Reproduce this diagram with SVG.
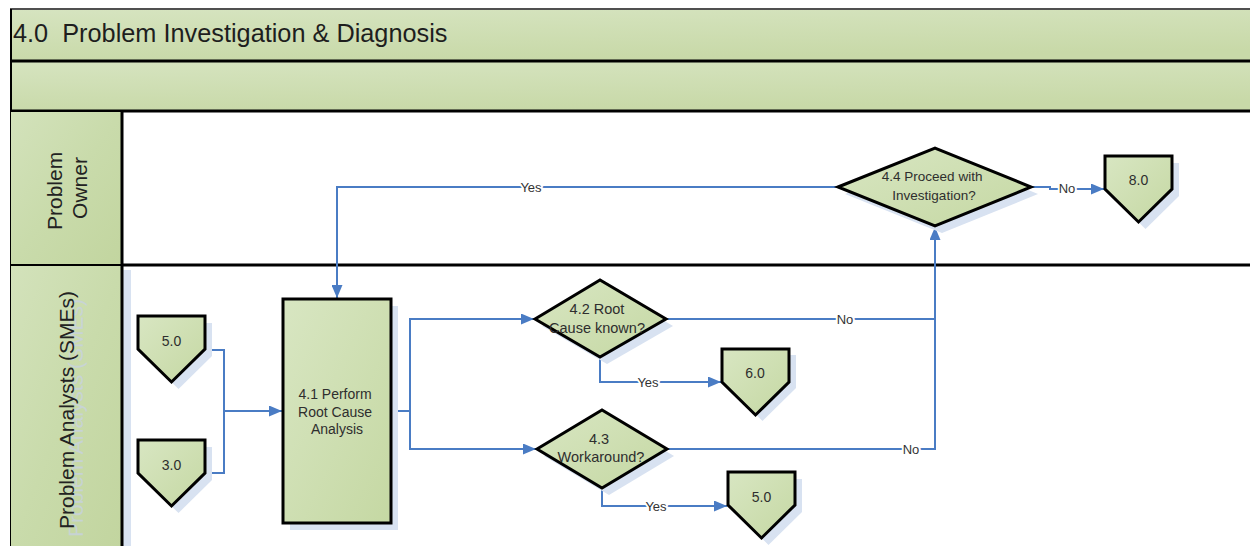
<svg xmlns="http://www.w3.org/2000/svg" width="1250" height="546" viewBox="0 0 1250 546">
  <defs>
    <linearGradient id="bandFill" x1="0" y1="0" x2="0.3" y2="1">
      <stop offset="0" stop-color="#d6e4c0"/>
      <stop offset="1" stop-color="#c8d9a8"/>
    </linearGradient>
    <linearGradient id="laneFill" x1="0" y1="0" x2="1" y2="1">
      <stop offset="0" stop-color="#d3e2bb"/>
      <stop offset="0.5" stop-color="#c9dbab"/>
      <stop offset="1" stop-color="#c2d59f"/>
    </linearGradient>
    <linearGradient id="nodeFill" x1="0" y1="0" x2="1" y2="1">
      <stop offset="0" stop-color="#d8e6c2"/>
      <stop offset="1" stop-color="#c5d8a3"/>
    </linearGradient>
    <!-- off-page reference: square top, pointed bottom -->
    <path id="offpage" d="M0,0 H67 V33 L33.5,66 L0,33 Z"/>
    <marker id="arrow" viewBox="0 0 13 11" refX="13" refY="5.5" markerWidth="13" markerHeight="11" markerUnits="userSpaceOnUse" orient="auto">
      <path d="M0,0 L13,5.5 L0,11 Z" fill="#4a7cc4"/>
    </marker>
  </defs>
  <style>
    .band { fill: url(#bandFill); }
    .lanehead { fill: url(#laneFill); }
    .rule { stroke: #000; stroke-width: 3; fill: none; }
    .node { fill: url(#nodeFill); stroke: #000; stroke-width: 3; stroke-linejoin: miter; }
    .shadow { fill: #d8e2f1; stroke: none; }
    .title { font-family: "Liberation Sans", Arial, sans-serif; font-size: 25.3px; fill: #1e1e1e; }
    .lanelabel { font-family: "Liberation Sans", Arial, sans-serif; font-size: 21px; fill: #222; text-anchor: middle; }
    .laneghost { font-family: "Liberation Sans", Arial, sans-serif; font-size: 21px; fill: #c8d2e3; text-anchor: middle; opacity: 0.75; }
    .ntext { font-family: "Liberation Sans", Arial, sans-serif; font-size: 14px; fill: #2e2e2e; text-anchor: middle; }
    .conn { fill: none; stroke: #4a7cc4; stroke-width: 2; }
    .clabel { font-family: "Liberation Sans", Arial, sans-serif; font-size: 13px; fill: #333; text-anchor: middle; paint-order: stroke; stroke: #fff; stroke-width: 4px; stroke-linejoin: round; }
  </style>

  <rect width="1250" height="546" fill="#fff"/>

  <!-- pool frame: title band, phase band, lanes -->
  <g id="pool">
    <rect class="band" x="10" y="9" width="1245" height="52"/>
    <line x1="10" y1="9" x2="1250" y2="9" stroke="#505050" stroke-width="2"/>
    <text class="title" x="13" y="42" xml:space="preserve">4.0  Problem Investigation &amp; Diagnosis</text>
    <rect class="band" x="10" y="61" width="1245" height="50"/>
    <line class="rule" x1="10" y1="61" x2="1250" y2="61"/>
    <line class="rule" x1="10" y1="111" x2="1250" y2="111"/>
    <line class="rule" x1="10" y1="265" x2="1250" y2="265"/>
    <line x1="11" y1="9" x2="11" y2="546" stroke="#000" stroke-width="2"/>
  </g>

  <g id="lane-owner">
    <rect class="lanehead" x="11" y="112" width="111" height="152"/>
    <text class="lanelabel" transform="translate(62,188) rotate(-90)">
      <tspan x="0" y="0">Problem</tspan>
      <tspan x="0" y="25">Owner</tspan>
    </text>
  </g>

  <g id="lane-analysts">
    <rect class="shadow" x="123" y="270" width="8" height="276"/>
    <rect class="lanehead" x="11" y="266" width="111" height="280"/>
    <text class="laneghost" transform="translate(83,418) rotate(-90)">Problem Analysts (SMEs)</text>
    <text class="lanelabel" transform="translate(74,410) rotate(-90)">Problem Analysts (SMEs)</text>
  </g>
  <line class="rule" x1="122" y1="111" x2="122" y2="546"/>

  <!-- connectors -->
  <g id="connectors">
    <path class="conn" d="M205,350 H224 V411"/>
    <path class="conn" d="M205,473 H224 V411"/>
    <path class="conn" d="M224,411 H282" marker-end="url(#arrow)"/>
    <path class="conn" d="M391,411 H410 V319 H534" marker-end="url(#arrow)"/>
    <path class="conn" d="M410,411 V449 H536" marker-end="url(#arrow)"/>
    <path class="conn" d="M600,357 V382 H721" marker-end="url(#arrow)"/>
    <path class="conn" d="M602,488 V506 H727" marker-end="url(#arrow)"/>
    <path class="conn" d="M666,319 H935"/>
    <path class="conn" d="M667,449 H935 V227" marker-end="url(#arrow)"/>
    <path class="conn" d="M1032,187 H1050 V189 H1104" marker-end="url(#arrow)"/>
    <path class="conn" d="M837,187 H337 V298" marker-end="url(#arrow)"/>
    <text class="clabel" x="531" y="191.5">Yes</text>
    <text class="clabel" x="648" y="386.5">Yes</text>
    <text class="clabel" x="656" y="510.5">Yes</text>
    <text class="clabel" x="845" y="323.5">No</text>
    <text class="clabel" x="911" y="453.5">No</text>
    <text class="clabel" x="1067" y="193">No</text>
  </g>

  <!-- off-page references -->
  <g id="ref-5-0-in">
    <use href="#offpage" class="shadow" transform="translate(145,323)"/>
    <use href="#offpage" class="node" transform="translate(138,316)"/>
    <text class="ntext" x="171.5" y="346">5.0</text>
  </g>
  <g id="ref-3-0-in">
    <use href="#offpage" class="shadow" transform="translate(145,447)"/>
    <use href="#offpage" class="node" transform="translate(138,440)"/>
    <text class="ntext" x="171.5" y="470">3.0</text>
  </g>
  <g id="ref-6-0">
    <use href="#offpage" class="shadow" transform="translate(729,355)"/>
    <use href="#offpage" class="node" transform="translate(722,349)"/>
    <text class="ntext" x="755" y="378">6.0</text>
  </g>
  <g id="ref-5-0-out">
    <use href="#offpage" class="shadow" transform="translate(735,479)"/>
    <use href="#offpage" class="node" transform="translate(728,472)"/>
    <text class="ntext" x="761.5" y="502">5.0</text>
  </g>
  <g id="ref-8-0">
    <use href="#offpage" class="shadow" transform="translate(1112,163)"/>
    <use href="#offpage" class="node" transform="translate(1105,156)"/>
    <text class="ntext" x="1138.5" y="185">8.0</text>
  </g>

  <!-- process step -->
  <g id="step-4-1">
    <rect class="shadow" x="290" y="306" width="108" height="224"/>
    <rect class="node" x="283" y="299" width="108" height="224"/>
    <text class="ntext">
      <tspan x="337" y="399">4.1 Perform</tspan>
      <tspan x="337" y="416.5">Root Cause</tspan>
      <tspan x="337" y="434">Analysis</tspan>
    </text>
  </g>

  <!-- decisions -->
  <g id="decision-4-2">
    <path class="shadow" d="M542,326 L607,287 L673,326 L607,364 Z"/>
    <path class="node" d="M535,319 L600,280 L666,319 L600,357 Z"/>
    <text class="ntext" style="font-size:14.5px">
      <tspan x="599" y="314">4.2 Root</tspan>
      <tspan x="597" y="332.5">Cause known?</tspan>
    </text>
  </g>
  <g id="decision-4-3">
    <path class="shadow" d="M544,456 L609,417 L674,456 L609,495 Z"/>
    <path class="node" d="M537,449 L602,410 L667,449 L602,488 Z"/>
    <text class="ntext" style="font-size:14.5px">
      <tspan x="601" y="444">4.3</tspan>
      <tspan x="601" y="462">Workaround?</tspan>
    </text>
  </g>
  <g id="decision-4-4">
    <path class="shadow" d="M845,194 L942,155 L1038,194 L942,233 Z"/>
    <path class="node" d="M838,187 L935,148 L1031,187 L935,226 Z"/>
    <text class="ntext" style="font-size:13.5px">
      <tspan x="934" y="181">4.4 Proceed with</tspan>
      <tspan x="934" y="199.5">Investigation?</tspan>
    </text>
  </g>
</svg>
